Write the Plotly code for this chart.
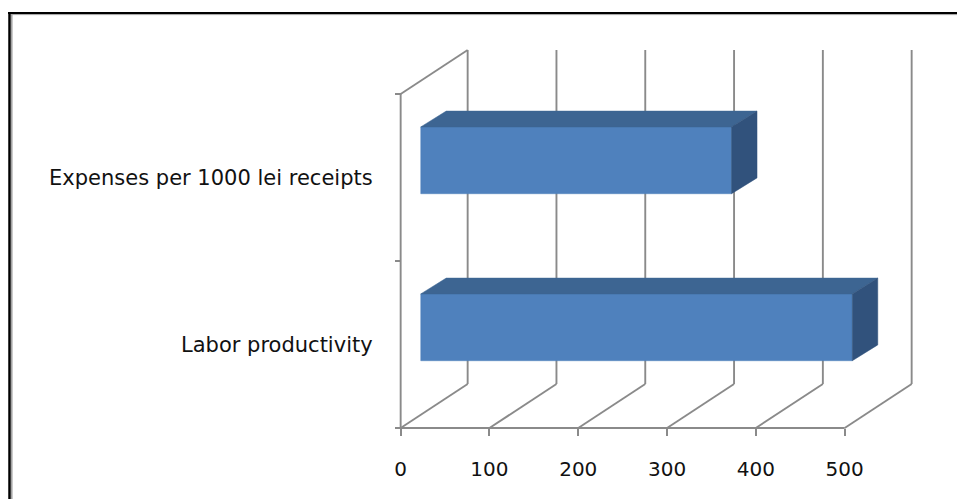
import plotly.graph_objects as go

# ---- data ----
categories = ["Labor productivity", "Expenses per 1000 lei receipts"]
values = [486, 350]
x_ticks = [0, 100, 200, 300, 400, 500]
x_tick_labels = ["0", "100", "200", "300", "400", "500"]

# ---- style / geometry constants ----
PXX = 0.888          # px per x unit
PXY = 167.0          # px per category unit
DX = 67 / PXX        # depth offset in x units
DY = 44 / PXY        # depth offset in y units
BAR_H = 0.4
F_X, F_Y = 0.30 * DX, 0.39 * DY   # front face of bars
B_X, B_Y = 0.68 * DX, 0.75 * DY   # back face of bars

GRID = "#8a8a8a"
FRONT = "#4f81bd"
TOP = "#3d6592"
SIDE = "#31527c"
FONT = "DejaVu Sans"

W, H = 957, 499
ML, MR, MT, MB = 390, 41, 47, 61
pw, ph = W - ML - MR, H - MT - MB
x0 = -12
xr = [x0, x0 + pw / PXX]
y0 = -0.06
yr = [y0, y0 + ph / PXY]

fig = go.Figure()

# ---- 3D frame (walls & floor) ----
gx, gy = [], []
def seg(a, b):
    gx.extend([a[0], b[0], None]); gy.extend([a[1], b[1], None])

seg((0, 0), (0, 2))
seg((0, 0), (x_ticks[-1], 0))
seg((0, 2), (DX, 2 + DY))
for t in x_ticks:
    seg((t, 0), (t + DX, DY))
    seg((t + DX, DY), (t + DX, 2 + DY))

fig.add_trace(go.Scatter(x=gx, y=gy, mode="lines", line=dict(color=GRID, width=1.9),
                         hoverinfo="skip", showlegend=False))

# ---- 3D bars ----
for i, v in enumerate(values):
    c = i + 0.5
    bf, tf = c - BAR_H / 2 + F_Y, c + BAR_H / 2 + F_Y
    bb, tb = c - BAR_H / 2 + B_Y, c + BAR_H / 2 + B_Y
    # front face
    fig.add_trace(go.Scatter(x=[F_X, v + F_X, v + F_X, F_X, F_X], y=[bf, bf, tf, tf, bf],
                             fill="toself", fillcolor=FRONT, mode="lines",
                             line=dict(color=FRONT, width=0.5), hoverinfo="skip", showlegend=False))
    # top face
    fig.add_trace(go.Scatter(x=[F_X, v + F_X, v + B_X, B_X, F_X], y=[tf, tf, tb, tb, tf],
                             fill="toself", fillcolor=TOP, mode="lines",
                             line=dict(color=TOP, width=0.5), hoverinfo="skip", showlegend=False))
    # side face
    fig.add_trace(go.Scatter(x=[v + F_X, v + B_X, v + B_X, v + F_X, v + F_X], y=[bf, bb, tb, tf, bf],
                             fill="toself", fillcolor=SIDE, mode="lines",
                             line=dict(color=SIDE, width=0.5), hoverinfo="skip", showlegend=False))

# ---- border frame ----
def px(xp):
    return (xp - ML) / pw
def py(yp):
    return 1 - (yp - MT) / ph

shapes = [
    dict(type="line", xref="paper", yref="paper", x0=px(9.5), y0=py(H + 2), x1=px(9.5), y1=py(12),
         line=dict(color="black", width=2.5)),
    dict(type="line", xref="paper", yref="paper", x0=px(8), y0=py(13), x1=px(W + 2), y1=py(13),
         line=dict(color="black", width=2)),
    dict(type="line", xref="paper", yref="paper", x0=px(11.8), y0=py(H + 2), x1=px(11.8), y1=py(14.5),
         line=dict(color="#a0a0a0", width=1.5)),
    dict(type="line", xref="paper", yref="paper", x0=px(11), y0=py(14.6), x1=px(W + 2), y1=py(14.6),
         line=dict(color="#a0a0a0", width=1)),
]

fig.update_layout(
    width=W, height=H,
    margin=dict(l=ML, r=MR, t=MT, b=MB, pad=0),
    paper_bgcolor="white", plot_bgcolor="white",
    shapes=shapes,
    xaxis=dict(range=xr, anchor="free", position=(0 - y0) / (yr[1] - yr[0]),
               tickvals=x_ticks, ticktext=x_tick_labels, ticks="outside", ticklen=7,
               tickcolor=GRID, tickwidth=1.9, showgrid=False, zeroline=False, showline=False,
               ticklabelstandoff=16, tickfont=dict(family=FONT, size=20, color="#111")),
    yaxis=dict(range=yr, anchor="free", position=(0 - x0) / (xr[1] - xr[0]),
               tickvals=[0.5, 1.5], ticktext=categories, ticks="",
               minor=dict(tickvals=[0, 1, 2], ticks="outside", ticklen=6, tickcolor=GRID, tickwidth=1.9,
                          showgrid=False),
               showgrid=False, zeroline=False, showline=False,
               ticklabelstandoff=28, tickfont=dict(family=FONT, size=21, color="#111")),
)

fig.write_html("out.html")
